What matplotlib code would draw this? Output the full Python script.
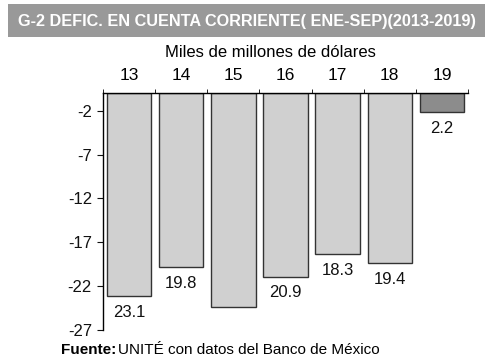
import matplotlib
matplotlib.use('Agg')
import matplotlib.pyplot as plt
import numpy as np

years = ['13', '14', '15', '16', '17', '18', '19']
deficit = [23.1, 19.8, 24.4, 20.9, 18.3, 19.4, 2.2]
shown_labels = ['23.1', '19.8', '', '20.9', '18.3', '19.4', '2.2']
yticks = [-2, -7, -12, -17, -22, -27]

plt.rcParams['font.family'] = ['Liberation Sans', 'DejaVu Sans']

fig = plt.figure(figsize=(5, 3.62), dpi=100)
ax = fig.add_axes([0.206, 0.088, 0.73, 0.655])

x = np.arange(len(years))
colors = ['#d0d0d0'] * 6 + ['#8c8c8c']
ax.bar(x, [-v for v in deficit], width=0.85, color=colors,
       edgecolor='#333333', linewidth=1.0)

for xi, v, lab in zip(x, deficit, shown_labels):
    if lab:
        ax.text(xi, -v - 1.0, lab, ha='center', va='top', fontsize=12, color='#111111')

ax.set_xlim(-0.5, 6.5)
ax.set_ylim(-27, 0)
ax.set_yticks(yticks)
ax.set_yticklabels([str(t) for t in yticks], fontsize=12)
ax.tick_params(axis='y', direction='out', length=4, width=0.8, pad=4, colors='#111111')

ax.set_xticks(x)
ax.set_xticklabels(years, fontsize=12.5)
ax.xaxis.set_ticks_position('top')
ax.tick_params(axis='x', which='major', length=0, pad=7, labeltop=True, labelbottom=False)
ax.set_xticks(np.arange(-0.5, 7.0, 1.0), minor=True)
ax.tick_params(axis='x', which='minor', direction='out', length=3, width=0.6, top=True, bottom=False)

for s in ['bottom', 'right']:
    ax.spines[s].set_visible(False)
ax.spines['top'].set_linewidth(1.0)
ax.spines['left'].set_linewidth(1.0)

# title banner
fig.patches.append(plt.Rectangle((0.016, 0.898), 0.954, 0.09, transform=fig.transFigure,
                                 facecolor='#999999', edgecolor='none'))
title = fig.text(0.493, 0.941, 'G-2 DEFIC. EN CUENTA CORRIENTE( ENE-SEP)(2013-2019)',
                 ha='center', va='center', fontsize=16, fontweight='bold', color='white')
# fit title to the banner width (no condensed font available)
renderer = fig.canvas.get_renderer()
w = title.get_window_extent(renderer).width
title.set_fontsize(16 * 460 / w)

fig.text(0.54, 0.854, 'Miles de millones de dólares', ha='center', va='center', fontsize=12)

fig.text(0.122, 0.033, 'Fuente:', ha='left', va='center', fontsize=11, fontweight='bold')
fig.text(0.236, 0.033, 'UNITÉ con datos del Banco de México', ha='left', va='center', fontsize=11)

plt.savefig('out.png', dpi=100, facecolor='white')
